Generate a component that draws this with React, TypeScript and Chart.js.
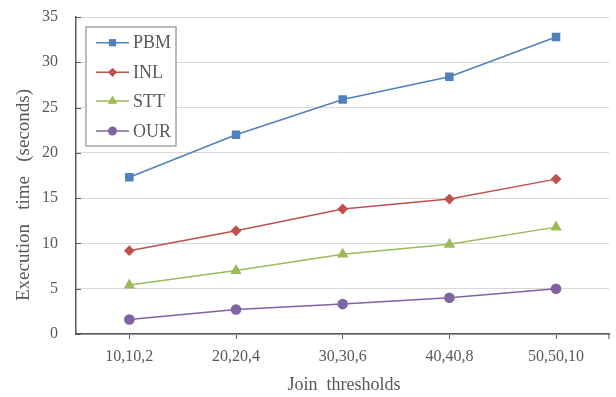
import { useEffect, useRef } from 'react';
import { Chart, registerables } from 'chart.js';

Chart.register(...registerables);

// Join threshold settings on the x axis
const categories = ['10,10,2', '20,20,4', '30,30,6', '40,40,8', '50,50,10'];

// Execution time (seconds) per method
const pbm = [17.3, 22.0, 25.9, 28.4, 32.8];
const inl = [9.2, 11.4, 13.8, 14.9, 17.1];
const stt = [5.4, 7.0, 8.8, 9.9, 11.8];
const our = [1.6, 2.7, 3.3, 4.0, 5.0];

const seriesNames = ['PBM', 'INL', 'STT', 'OUR'];
const seriesColors = ['#4F81BD', '#C0504D', '#9BBB59', '#8064A2'];
const seriesMarkers = ['rect', 'rectRot', 'triangle', 'circle'];
const seriesRadius = [6, 5.4, 6.6, 5.3];

const yMin = 0;
const yMax = 35;
const yStep = 5;

const xTitle = 'Join  thresholds';
const yTitle = 'Execution   time   (seconds)';

const FONT = "'Liberation Serif', 'Times New Roman', serif";
const TEXT = '#595959';
const AXIS = '#595959';

function drawMarker(ctx: CanvasRenderingContext2D, style: string, x: number, y: number, r: number) {
  ctx.beginPath();
  if (style === 'rect') {
    const s = Math.SQRT1_2 * r;
    ctx.rect(x - s, y - s, 2 * s, 2 * s);
  } else if (style === 'rectRot') {
    ctx.moveTo(x - r, y);
    ctx.lineTo(x, y - r);
    ctx.lineTo(x + r, y);
    ctx.lineTo(x, y + r);
    ctx.closePath();
  } else if (style === 'triangle') {
    const a = (2 * Math.PI) / 3;
    ctx.moveTo(x, y - r);
    ctx.lineTo(x + Math.sin(a) * r, y - Math.cos(a) * r);
    ctx.lineTo(x - Math.sin(a) * r, y - Math.cos(a) * r);
    ctx.closePath();
  } else {
    ctx.arc(x, y, r, 0, Math.PI * 2);
  }
  ctx.fill();
}

const overlay = {
  id: 'overlay',
  afterDraw(chart: any) {
    const { ctx, chartArea, scales } = chart;
    const ys = scales.y;
    ctx.save();

    // inner tick marks on the value axis
    ctx.strokeStyle = AXIS;
    ctx.lineWidth = 1;
    for (let v = yMin; v <= yMax; v += yStep) {
      const y = Math.round(ys.getPixelForValue(v)) + 0.5;
      ctx.beginPath();
      ctx.moveTo(chartArea.left, y);
      ctx.lineTo(chartArea.left + 5, y);
      ctx.stroke();
    }
    // closing tick at the end of the category axis
    ctx.beginPath();
    ctx.moveTo(chartArea.right - 0.5, chartArea.bottom);
    ctx.lineTo(chartArea.right - 0.5, chartArea.bottom + 5);
    ctx.stroke();

    // axis titles
    ctx.fillStyle = TEXT;
    ctx.textAlign = 'center';
    ctx.textBaseline = 'middle';
    ctx.font = `18px ${FONT}`;
    ctx.fillText(xTitle, 344, 385);
    ctx.save();
    ctx.translate(24, 195);
    ctx.rotate(-Math.PI / 2);
    ctx.font = `19px ${FONT}`;
    ctx.fillText(yTitle, 0, 0);
    ctx.restore();

    // legend box
    const bx = 86, by = 27, bw = 90, bh = 119;
    ctx.fillStyle = '#ffffff';
    ctx.fillRect(bx, by, bw, bh);
    ctx.strokeStyle = '#a6a6a6';
    ctx.lineWidth = 1.5;
    ctx.strokeRect(bx, by, bw, bh);

    const itemY = [42.7, 72.3, 101, 131];
    chart.data.datasets.forEach((ds: any, i: number) => {
      const y = itemY[i];
      ctx.strokeStyle = ds.borderColor;
      ctx.lineWidth = 1.5;
      ctx.beginPath();
      ctx.moveTo(96, y);
      ctx.lineTo(129, y);
      ctx.stroke();
      ctx.fillStyle = ds.pointBackgroundColor;
      drawMarker(ctx, ds.pointStyle, 112.5, y, ds.pointRadius * 0.85);
      ctx.fillStyle = TEXT;
      ctx.textAlign = 'left';
      ctx.textBaseline = 'middle';
      ctx.font = `18px ${FONT}`;
      ctx.fillText(ds.label, 133, y + 1);
    });

    ctx.restore();
  },
};

export default function App() {
  const ref = useRef<HTMLCanvasElement>(null);

  useEffect(() => {
    if (!ref.current) return;
    const values = [pbm, inl, stt, our];
    const chart = new Chart(ref.current, {
      type: 'line',
      data: {
        labels: categories,
        datasets: values.map((data, i) => ({
          label: seriesNames[i],
          data,
          borderColor: seriesColors[i],
          backgroundColor: seriesColors[i],
          pointBackgroundColor: seriesColors[i],
          pointBorderColor: seriesColors[i],
          pointStyle: seriesMarkers[i] as any,
          pointRadius: seriesRadius[i],
          pointBorderWidth: 0,
          borderWidth: 1.5,
          tension: 0,
          fill: false,
        })),
      },
      options: {
        responsive: false,
        animation: false,
        devicePixelRatio: 1,
        layout: { padding: { top: 17, right: 1, left: 0, bottom: 0 } },
        plugins: {
          legend: { display: false },
          tooltip: { enabled: false },
        },
        scales: {
          x: {
            type: 'category',
            offset: true,
            grid: {
              offset: false,
              drawOnChartArea: false,
              drawTicks: true,
              tickLength: 5,
              color: AXIS,
              lineWidth: 1,
            },
            border: { display: true, color: AXIS, width: 1.5 },
            ticks: {
              color: TEXT,
              font: { family: FONT, size: 16 },
              padding: 8,
              maxRotation: 0,
              autoSkip: false,
            },
            afterFit: (scale: any) => {
              scale.height = 63;
              scale.paddingLeft = 0;
              scale.paddingRight = 0;
            },
          },
          y: {
            min: yMin,
            max: yMax,
            ticks: {
              stepSize: yStep,
              color: TEXT,
              font: { family: FONT, size: 16 },
              padding: 18,
            },
            grid: {
              color: '#d9d9d9',
              lineWidth: 1,
              drawTicks: false,
            },
            border: { display: true, color: AXIS, width: 1.5 },
            afterFit: (scale: any) => {
              scale.width = 76;
              scale.paddingTop = 0;
              scale.paddingBottom = 0;
            },
          },
        },
      },
      plugins: [overlay],
    });
    return () => chart.destroy();
  }, []);

  return (
    <div style={{ position: 'fixed', left: 0, top: 0, width: 616, height: 397, background: '#ffffff' }}>
      <canvas ref={ref} width={616} height={397} style={{ display: 'block', width: 616, height: 397 }} />
    </div>
  );
}
